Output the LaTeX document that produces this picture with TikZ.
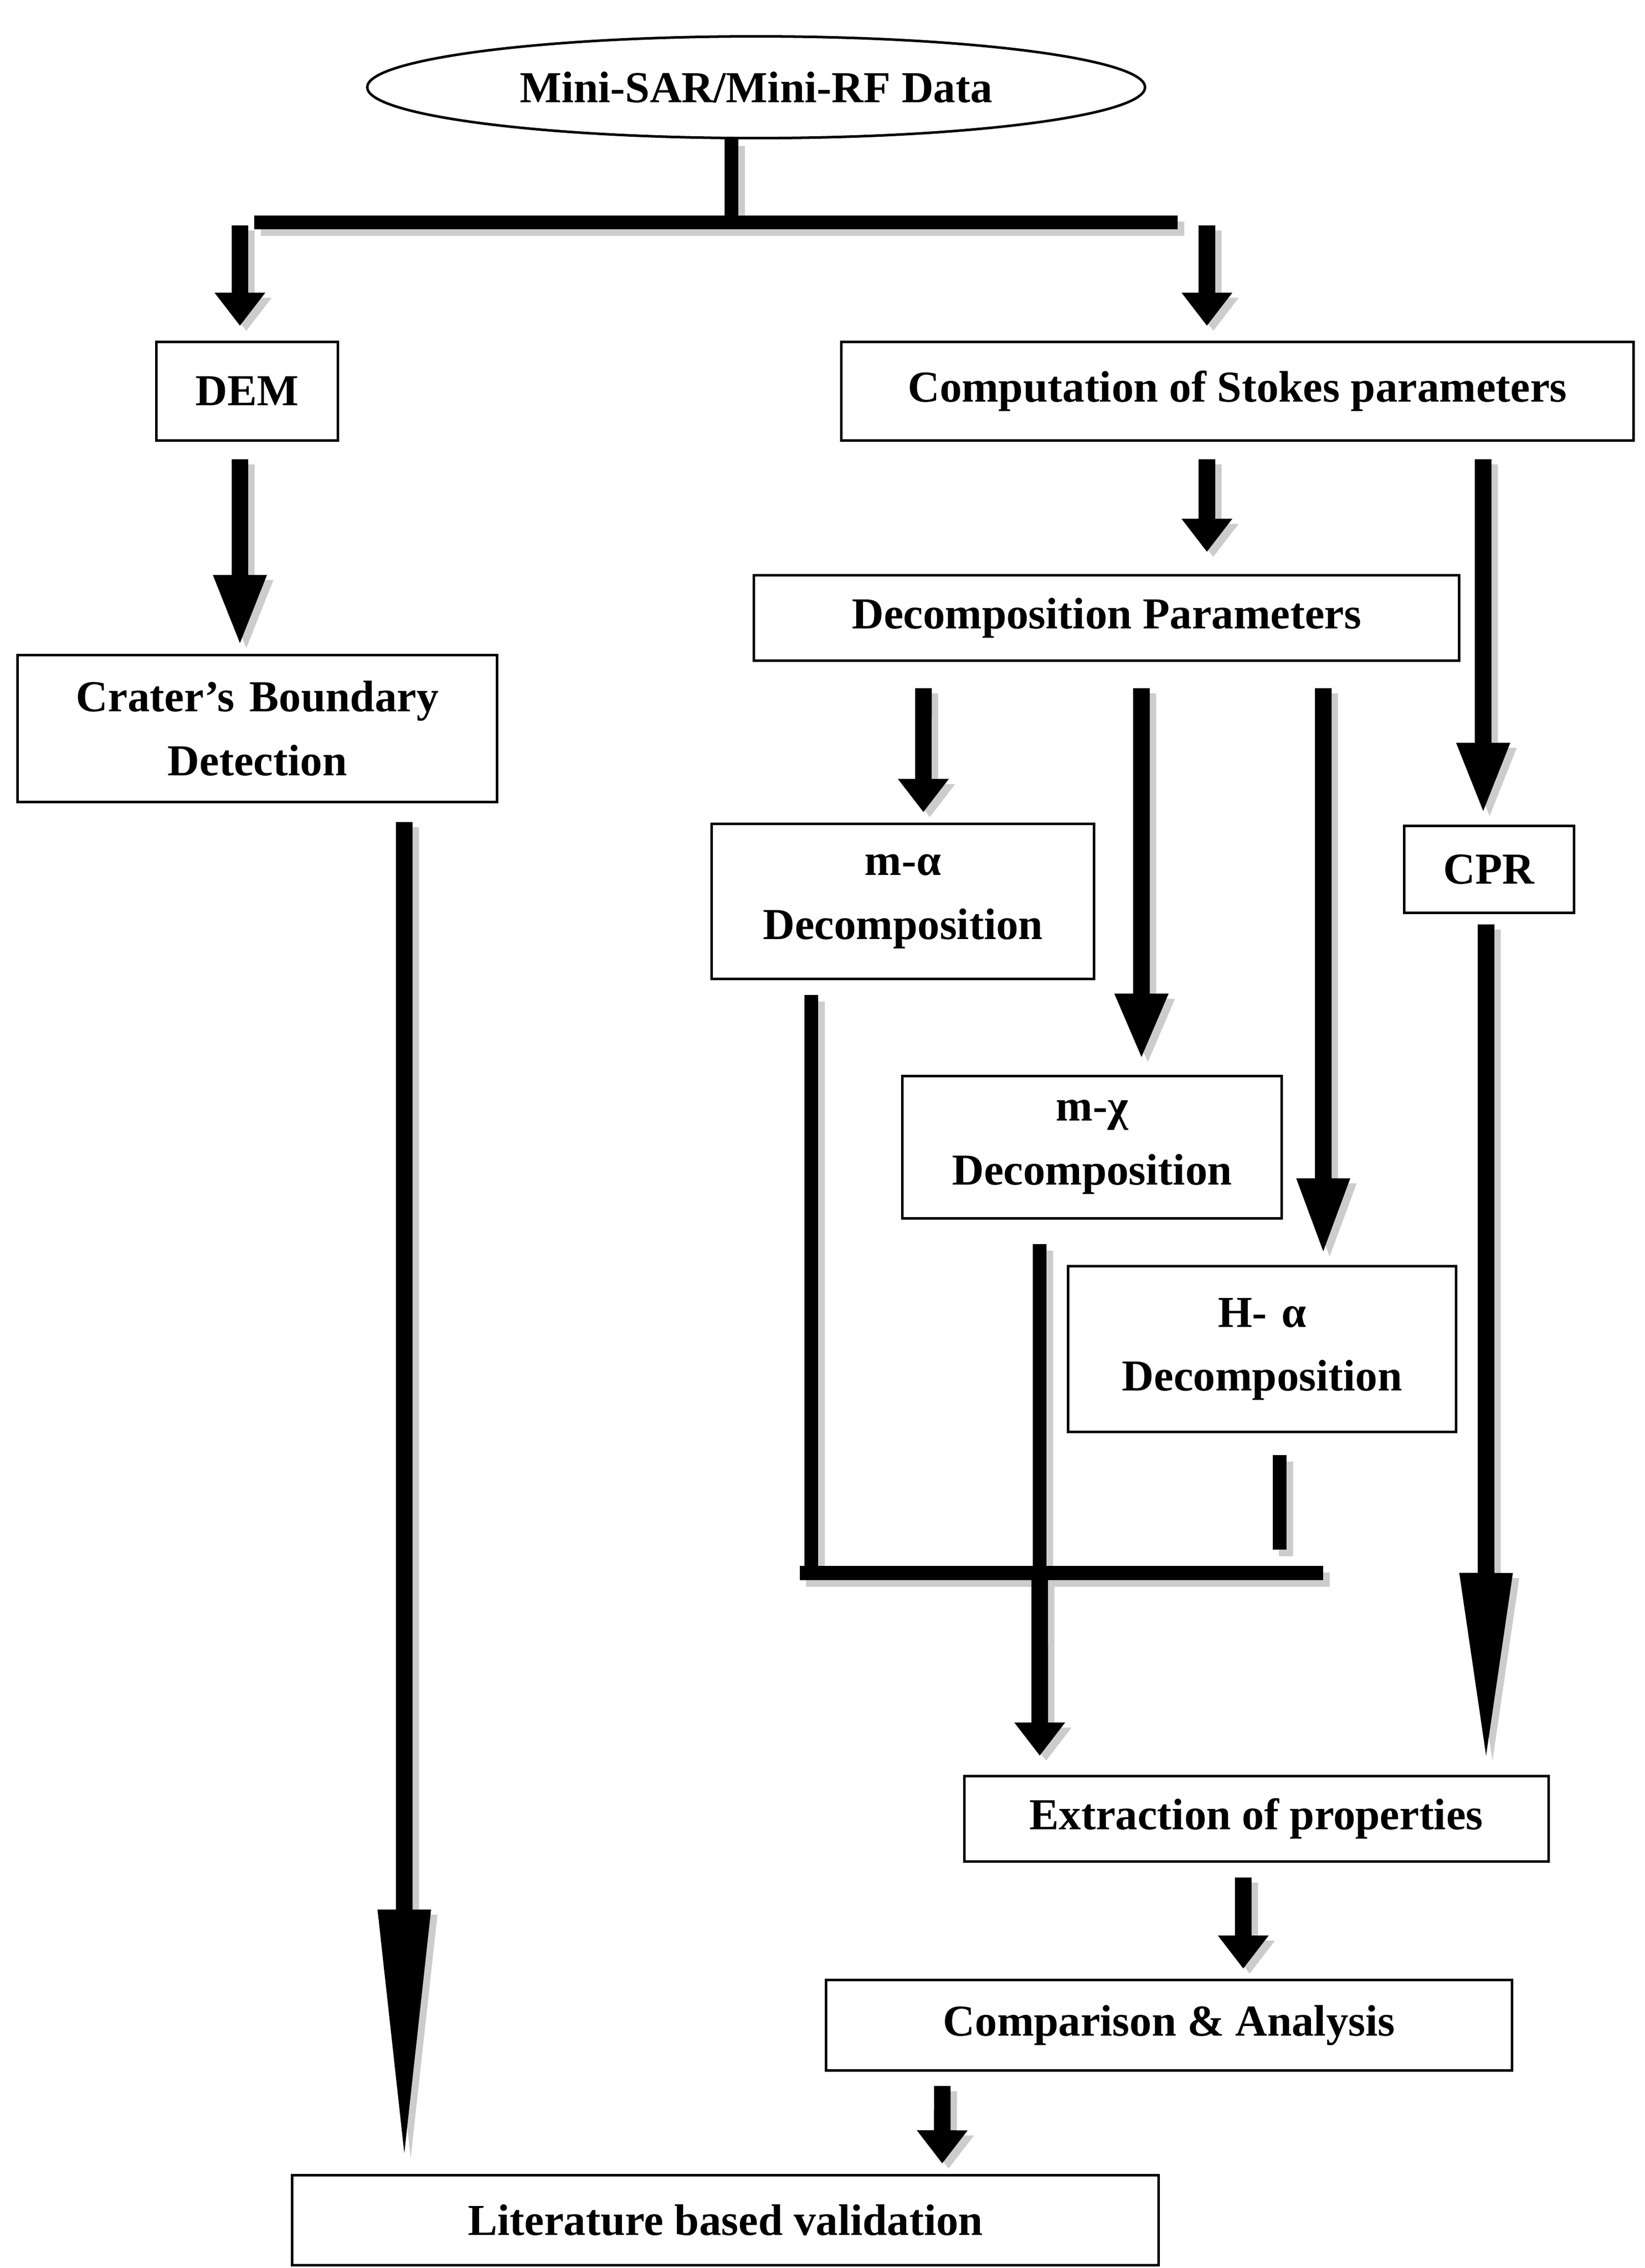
\documentclass[tikz,border=0pt]{standalone}
\usepackage{fontspec}
\setmainfont{Liberation Serif}
\usetikzlibrary{arrows.meta,shapes.geometric}
\tikzset{
  box/.style={draw, line width=1pt, align=center, font=\bfseries\fontsize{17.3}{25}\selectfont, inner sep=2pt},
  fat/.style={line width=6.5pt, -{Triangle[length=#1,width=19pt]},
    preaction={draw=gray!40, line width=6.5pt, -{Triangle[length=#1,width=19pt]}, transform canvas={shift={(2.5pt,-2pt)}}}},
  fat/.default=13pt,
  bar/.style={line width=5.5pt,
    preaction={draw=gray!40, line width=5.5pt, transform canvas={shift={(2.5pt,-2.5pt)}}}}
}
\begin{document}
\begin{tikzpicture}[x=0.02cm,y=-0.02cm]
 \useasboundingbox[fill=white] (0,0) rectangle (1131,1560);
 % nodes
 \node[box, ellipse, minimum width=10.7cm, minimum height=1.4cm] (data) at (520,60) {Mini-SAR/Mini-RF Data};
 \node[box, minimum width=2.5cm, minimum height=1.36cm] (dem) at (170,269) {DEM};
 \node[box, minimum width=10.9cm, minimum height=1.36cm] (stokes) at (851,269) {Computation of Stokes parameters};
 \node[box, minimum width=9.7cm, minimum height=1.18cm] (dparams) at (761,425) {Decomposition Parameters};
 \node[box, minimum width=6.6cm, minimum height=2.02cm, text width=6.4cm] (crater) at (177,501) {Crater’s Boundary\\Detection};
 \node[box, minimum width=5.26cm, minimum height=2.14cm, text width=5cm] (malpha) at (621,620) {m-α\\Decomposition};
 \node[box, minimum width=2.34cm, minimum height=1.2cm] (cpr) at (1024,598) {CPR};
 \node[box, minimum width=5.22cm, minimum height=1.96cm, text width=5cm] (mchi) at (751,789) {m-χ\\Decomposition};
 \node[box, minimum width=5.34cm, minimum height=2.28cm, text width=5.1cm] (halpha) at (868,928) {H- α\\Decomposition};
 \node[box, minimum width=8.04cm, minimum height=1.18cm] (extract) at (864,1251) {Extraction of properties};
 \node[box, minimum width=9.44cm, minimum height=1.24cm] (compare) at (804,1393) {Comparison \& Analysis};
 \node[box, minimum width=11.92cm, minimum height=1.24cm] (lit) at (499,1527) {Literature based validation};
 % splitting bars
 \coordinate (topL) at (175,153);
 \coordinate (topR) at (810,153);
 \coordinate (botL) at (550,1082);
 \coordinate (botR) at (910,1082);
 \coordinate (stemA) at (558,1078);
 \coordinate (stemB) at (715,1078);
 \coordinate (stemC) at (880,1066);
 \draw[bar] ([xshift=-0.34cm]data.south) -- ([xshift=-0.34cm]data.south |- topL);
 \draw[bar] (topL) -- (topR);
 \draw[fat] (165,155) -- ([xshift=-0.1cm,yshift=0.2cm]dem.north);
 \draw[fat] (830,155) -- ([xshift=-0.42cm,yshift=0.2cm]stokes.north);
 % left branch
 \draw[fat=28pt] ([xshift=-0.1cm,yshift=-0.24cm]dem.south) -- ([xshift=-0.24cm,yshift=0.1cm]crater.north);
 \draw[fat=100pt] ([xshift=2.02cm,yshift=-0.26cm]crater.south) -- ([xshift=-4.42cm,yshift=0.12cm]lit.north);
 % right branch
 \draw[fat] ([xshift=-0.42cm,yshift=-0.24cm]stokes.south) -- ([xshift=1.38cm,yshift=0.3cm]dparams.north);
 \draw[fat=28pt] ([xshift=3.38cm,yshift=-0.24cm]stokes.south) -- ([xshift=-0.08cm,yshift=0.14cm]cpr.north);
 \draw[fat] ([xshift=-2.52cm,yshift=-0.36cm]dparams.south) -- ([xshift=0.28cm,yshift=0.14cm]malpha.north);
 \draw[fat=26pt] ([xshift=0.48cm,yshift=-0.36cm]dparams.south) -- ([xshift=0.68cm,yshift=0.2cm]mchi.north);
 \draw[fat=30pt] ([xshift=2.98cm,yshift=-0.36cm]dparams.south) -- ([xshift=0.84cm,yshift=0.14cm]halpha.north);
 \draw[fat=75pt] ([xshift=-0.04cm,yshift=-0.14cm]cpr.south) -- ([xshift=3.16cm,yshift=0.14cm]extract.north);
 % merge
 \draw[bar] (malpha.south -| stemA) ++(0,-0.2cm) -- (stemA);
 \draw[bar] (mchi.south -| stemB) ++(0,-0.34cm) -- (stemB);
 \draw[bar] (halpha.south -| stemC) ++(0,-0.3cm) -- (stemC);
 \draw[bar] (botL) -- (botR);
 \draw[fat] (715,1086) -- ([xshift=-2.98cm,yshift=0.26cm]extract.north);
 \draw[fat] ([xshift=-0.18cm,yshift=-0.2cm]extract.south) -- ([xshift=1.02cm,yshift=0.14cm]compare.north);
 \draw[fat] ([xshift=-3.12cm,yshift=-0.2cm]compare.south) -- ([xshift=2.98cm,yshift=0.14cm]lit.north);
\end{tikzpicture}
\end{document}
